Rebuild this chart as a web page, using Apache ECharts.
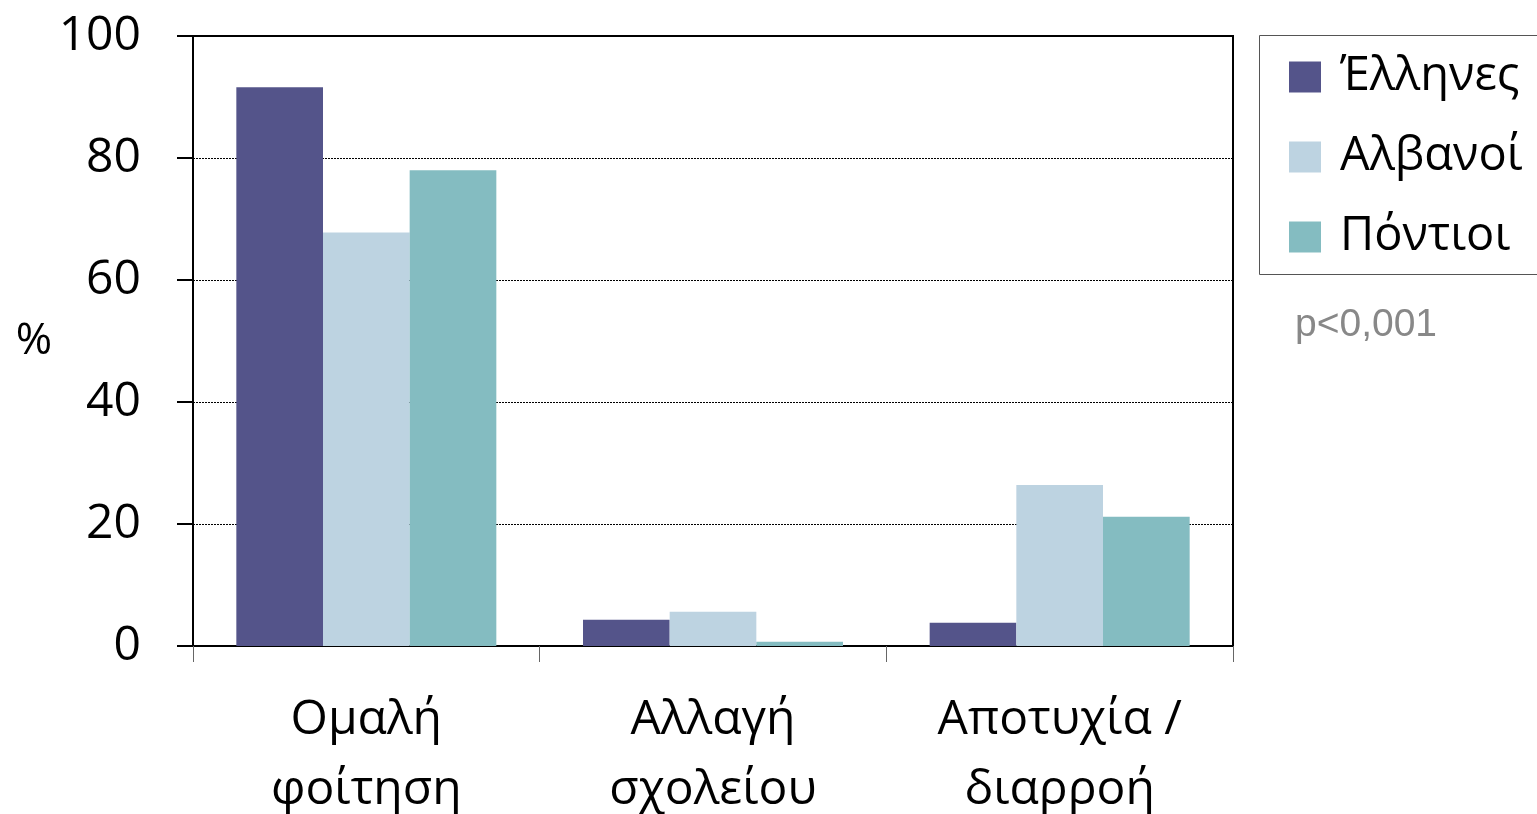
<!DOCTYPE html>
<html>
<head>
<meta charset="utf-8">
<script src="https://cdn.jsdelivr.net/npm/echarts@6/dist/echarts.min.js"></script>
<style>
  html, body { margin: 0; padding: 0; background: #fff; }
  #chart { width: 1537px; height: 814px; }
</style>
</head>
<body>
<div id="chart"></div>
<script>
// categories and series
const categories = ['Ομαλή\nφοίτηση', 'Αλλαγή\nσχολείου', 'Αποτυχία /\nδιαρροή']
const seriesNames = ['Έλληνες', 'Αλβανοί', 'Πόντιοι']
const greeks = [91.6, 4.3, 3.8]
const albanians = [67.8, 5.6, 26.4]
const pontians = [78.0, 0.7, 21.2]
const yTicks = [0, 20, 40, 60, 80, 100]

const colors = ['#54548A', '#BDD3E1', '#84BCC1']
const font = 'Open Sans'

const chart = echarts.init(document.getElementById('chart'))

const option = {
  animation: false,
  textStyle: { fontFamily: font },
  grid: {
    left: 193,
    right: 304,
    top: 36,
    bottom: 168,
    outerBoundsMode: 'none',
    containLabel: false,
    show: true,
    borderColor: '#000',
    borderWidth: 2,
  },
  legend: {
    data: seriesNames,
    orient: 'vertical',
    left: 1284,
    top: 48,
    icon: 'rect',
    itemWidth: 32,
    itemHeight: 31,
    itemGap: 32,
    textStyle: { fontFamily: font, fontSize: 47, color: '#000', lineHeight: 48, padding: [0, 0, 0, 14] },
  },
  graphic: [
    {
      type: 'rect',
      left: 1257,
      top: 33,
      shape: { width: 290, height: 239 },
      style: { fill: 'none', stroke: '#555', lineWidth: 1 },
    },
    {
      type: 'text',
      left: 1295,
      top: 306,
      style: { text: 'p<0,001', font: '39px "Liberation Sans"', fill: '#888' },
    },
  ],
  xAxis: {
    type: 'category',
    data: categories,
    axisLine: { lineStyle: { color: '#000', width: 2 } },
    axisTick: { show: true, length: 16, lineStyle: { color: '#666', width: 1 } },
    axisLabel: { fontSize: 48, color: '#000', lineHeight: 70, margin: 39, fontFamily: font },
  },
  yAxis: {
    type: 'value',
    min: yTicks[0],
    max: yTicks[yTicks.length - 1],
    interval: 20,
    name: '%',
    nameLocation: 'middle',
    nameRotate: 0,
    nameGap: 141,
    nameTextStyle: { fontSize: 44, color: '#000', fontFamily: font, padding: [0, 0, 10, 0] },
    axisLine: { show: true, lineStyle: { color: '#000', width: 2 } },
    axisTick: { show: true, inside: false, length: 16, lineStyle: { color: '#000', width: 2 } },
    axisLabel: { fontSize: 48, color: '#000', margin: 52, fontFamily: font },
    splitLine: { show: true, lineStyle: { color: '#000', width: 1, type: [2, 1] } },
  },
  series: [
    { name: seriesNames[0], type: 'bar', data: greeks, itemStyle: { color: colors[0] }, barGap: '0%', barCategoryGap: '25%' },
    { name: seriesNames[1], type: 'bar', data: albanians, itemStyle: { color: colors[1] }, barGap: '0%', barCategoryGap: '25%' },
    { name: seriesNames[2], type: 'bar', data: pontians, itemStyle: { color: colors[2] }, barGap: '0%', barCategoryGap: '25%' },
  ],
}

chart.setOption(option)
</script>
</body>
</html>
